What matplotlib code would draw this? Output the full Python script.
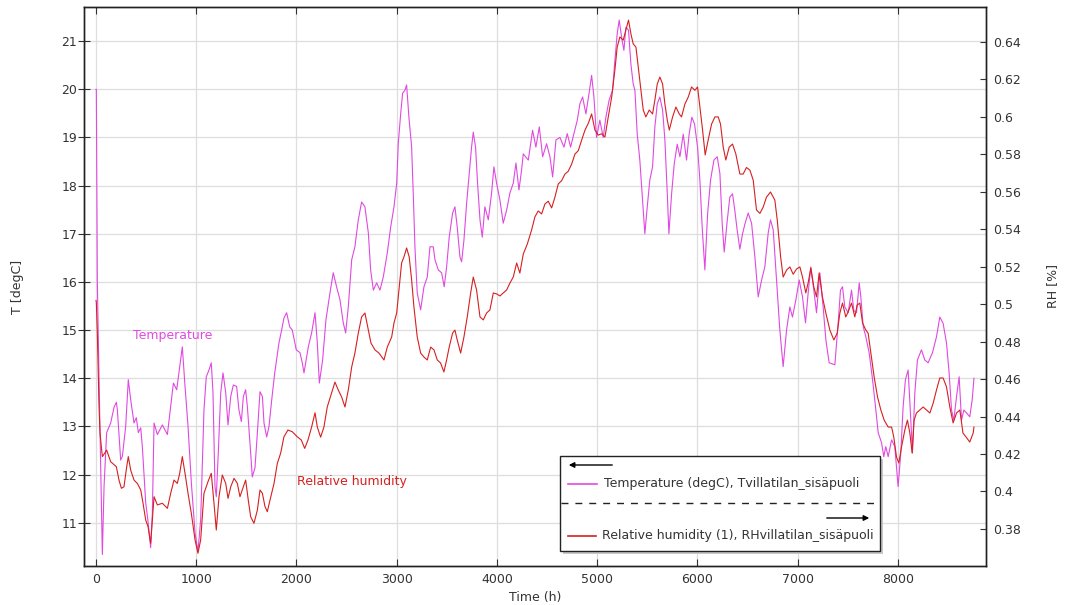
import numpy as np
import matplotlib
matplotlib.use("Agg")
import matplotlib.pyplot as plt
from matplotlib.patches import Rectangle, FancyArrowPatch
from matplotlib.lines import Line2D

# temperature (degC)
t_temp = [0, 3, 7, 13, 30, 63, 80, 106, 146, 180, 203, 213, 246, 263, 296, 322, 346, 379, 402, 422,
          446, 462, 496, 519, 545, 562, 579, 612, 662, 712, 745, 772, 805, 835, 861, 888, 918, 951,
          988, 1017, 1044, 1077, 1100, 1127, 1150, 1167, 1187, 1200, 1220, 1244, 1267, 1294, 1317,
          1344, 1370, 1403, 1426, 1450, 1470, 1493, 1510, 1543, 1559, 1586, 1610, 1636, 1660, 1676,
          1703, 1726, 1753, 1783, 1825, 1852, 1875, 1902, 1932, 1958, 1998, 2035, 2058, 2075, 2118,
          2151, 2185, 2208, 2228, 2261, 2294, 2334, 2367, 2400, 2434, 2467, 2491, 2517, 2551, 2583,
          2617, 2650, 2683, 2717, 2740, 2767, 2800, 2833, 2866, 2906, 2940, 2973, 3000, 3016, 3040,
          3059, 3082, 3099, 3122, 3149, 3165, 3182, 3205, 3239, 3272, 3305, 3332, 3365, 3382, 3415,
          3448, 3474, 3498, 3524, 3558, 3581, 3604, 3631, 3648, 3671, 3698, 3724, 3747, 3764, 3787,
          3807, 3831, 3854, 3880, 3914, 3947, 3970, 3997, 4030, 4063, 4097, 4130, 4163, 4190, 4220,
          4246, 4263, 4313, 4356, 4389, 4423, 4456, 4496, 4529, 4556, 4589, 4629, 4669, 4702, 4735,
          4768, 4802, 4828, 4855, 4888, 4918, 4945, 4968, 4994, 5027, 5061, 5087, 5120, 5154, 5177,
          5200, 5220, 5244, 5267, 5287, 5313, 5337, 5360, 5377, 5400, 5426, 5453, 5476, 5500, 5526,
          5553, 5576, 5600, 5626, 5653, 5676, 5700, 5716, 5743, 5769, 5799, 5826, 5859, 5892, 5918,
          5945, 5972, 6002, 6025, 6048, 6075, 6102, 6132, 6165, 6198, 6225, 6248, 6268, 6298, 6324,
          6351, 6374, 6397, 6424, 6451, 6474, 6507, 6541, 6574, 6607, 6641, 6673, 6707, 6730, 6757,
          6790, 6823, 6856, 6890, 6923, 6949, 6983, 7016, 7049, 7079, 7105, 7132, 7162, 7189, 7222,
          7255, 7282, 7315, 7372, 7405, 7428, 7448, 7471, 7505, 7538, 7561, 7588, 7615, 7631, 7655,
          7681, 7714, 7748, 7781, 7804, 7838, 7860, 7880, 7904, 7938, 7970, 8003, 8030, 8053, 8076,
          8103, 8126, 8146, 8170, 8196, 8236, 8269, 8302, 8346, 8386, 8419, 8452, 8486, 8512, 8536,
          8559, 8586, 8612, 8636, 8659, 8686, 8718, 8742, 8760]
temp = [20.0, 20.0, 18.5, 16.0, 14.0, 10.34, 11.75, 12.87, 13.07, 13.4, 13.5, 13.34, 12.3, 12.38,
        13.0, 13.97, 13.55, 13.07, 13.18, 12.87, 12.97, 12.58, 11.41, 11.02, 10.48, 11.2, 13.07,
        12.83, 13.03, 12.83, 13.41, 13.9, 13.76, 14.24, 14.65, 13.83, 13.0, 11.83, 10.79, 10.4,
        11.06, 13.34, 14.03, 14.17, 14.32, 13.7, 11.75, 11.54, 12.45, 13.69, 14.11, 13.7, 13.03,
        13.62, 13.86, 13.83, 13.34, 13.1, 13.62, 13.76, 13.41, 12.45, 11.95, 12.14, 12.87, 13.72,
        13.62, 13.07, 12.78, 13.0, 13.55, 14.11, 14.73, 15.0, 15.25, 15.36, 15.07, 15.0, 14.59,
        14.53, 14.32, 14.11, 14.65, 14.94, 15.36, 14.73, 13.9, 14.38, 15.21, 15.77, 16.19, 15.9,
        15.63, 15.15, 14.94, 15.48, 16.46, 16.73, 17.29, 17.66, 17.56, 17.02, 16.25, 15.83, 15.98,
        15.83, 16.1, 16.6, 17.14, 17.56, 18.05, 18.88, 19.5, 19.92, 19.98, 20.09, 19.42, 18.8,
        17.85, 16.73, 15.77, 15.42, 15.9, 16.1, 16.73, 16.73, 16.46, 16.25, 16.19, 15.9, 16.31,
        16.93, 17.43, 17.56, 17.14, 16.52, 16.42, 16.87, 17.64, 18.26, 18.8, 19.11, 18.8, 18.05,
        17.29, 16.93, 17.56, 17.29, 17.85, 18.39, 18.05, 17.7, 17.22, 17.49, 17.85, 18.05, 18.47,
        17.91, 18.32, 18.66, 18.53, 19.15, 18.8, 19.22, 18.6, 18.87, 18.6, 18.18, 18.95, 19.0,
        18.8, 19.08, 18.8, 19.08, 19.36, 19.7, 19.84, 19.49, 19.9, 20.29, 19.84, 19.0, 19.36,
        19.0, 19.42, 19.78, 19.98, 20.6, 21.15, 21.44, 21.08, 20.81, 21.29, 21.23, 20.52, 20.11,
        19.98, 19.07, 18.53, 17.7, 17.0, 17.56, 18.12, 18.39, 19.22, 19.7, 19.84, 19.57, 18.95,
        17.83, 17.0, 17.83, 18.45, 18.86, 18.6, 19.07, 18.53, 19.07, 19.42, 19.28, 18.8, 18.12,
        17.14, 16.25, 17.41, 18.12, 18.53, 18.6, 18.25, 17.2, 16.62, 17.27, 17.76, 17.83, 17.48,
        17.08, 16.68, 17.0, 17.2, 17.43, 17.22, 16.52, 15.69, 16.04, 16.31, 17.02, 17.29, 17.08,
        16.04, 15.0, 14.24, 15.0, 15.48, 15.27, 15.63, 16.04, 15.69, 15.15, 15.76, 16.31, 15.83,
        15.36, 16.19, 15.48, 14.8, 14.32, 14.28, 15.15, 15.83, 15.9, 15.48, 15.36, 15.83, 15.41,
        15.36, 15.98, 15.69, 15.07, 14.86, 14.53, 13.97, 13.34, 12.87, 12.66, 12.37, 12.58, 12.37,
        12.72, 12.58, 11.75, 12.45, 13.41, 13.97, 14.17, 13.28, 12.45, 13.7, 14.38, 14.59, 14.38,
        14.32, 14.53, 14.86, 15.27, 15.14, 14.73, 14.11, 13.34, 13.13, 13.62, 14.03, 13.13, 13.34,
        13.28, 13.2, 13.55, 14.0]

# relative humidity (1)
t_rh = [0, 3, 13, 30, 40, 63, 86, 106, 146, 203, 229, 253, 279, 306, 322, 346, 379, 412, 446, 469,
        496, 519, 545, 562, 579, 612, 662, 712, 745, 778, 811, 835, 861, 888, 918, 951, 988, 1017,
        1044, 1077, 1117, 1150, 1177, 1200, 1227, 1260, 1294, 1317, 1344, 1377, 1410, 1436, 1470,
        1493, 1519, 1543, 1576, 1610, 1636, 1660, 1686, 1709, 1736, 1776, 1809, 1842, 1875, 1915,
        1958, 2008, 2048, 2082, 2115, 2151, 2185, 2208, 2241, 2274, 2307, 2351, 2384, 2417, 2451,
        2484, 2517, 2551, 2583, 2617, 2650, 2683, 2717, 2743, 2783, 2823, 2873, 2906, 2950, 2973,
        3000, 3026, 3049, 3072, 3099, 3125, 3149, 3172, 3205, 3239, 3272, 3305, 3339, 3372, 3405,
        3438, 3471, 3498, 3524, 3558, 3581, 3604, 3638, 3671, 3704, 3738, 3764, 3797, 3831, 3864,
        3897, 3930, 3964, 3997, 4030, 4063, 4097, 4130, 4163, 4197, 4229, 4263, 4303, 4346, 4379,
        4412, 4446, 4479, 4512, 4546, 4579, 4612, 4646, 4679, 4712, 4746, 4779, 4812, 4846, 4879,
        4912, 4945, 4978, 5011, 5045, 5078, 5111, 5145, 5177, 5200, 5227, 5260, 5287, 5313, 5337,
        5360, 5387, 5410, 5433, 5460, 5486, 5520, 5553, 5576, 5600, 5626, 5653, 5676, 5700, 5720,
        5753, 5786, 5819, 5842, 5876, 5909, 5942, 5975, 6002, 6025, 6052, 6078, 6108, 6142, 6175,
        6208, 6231, 6258, 6284, 6318, 6351, 6384, 6424, 6457, 6490, 6524, 6557, 6590, 6624, 6657,
        6690, 6730, 6773, 6797, 6831, 6856, 6890, 6923, 6956, 6990, 7023, 7049, 7082, 7105, 7132,
        7162, 7189, 7215, 7248, 7282, 7322, 7362, 7395, 7422, 7448, 7481, 7505, 7538, 7571, 7594,
        7621, 7648, 7681, 7704, 7731, 7764, 7798, 7831, 7864, 7904, 7938, 7960, 7987, 8010, 8037,
        8070, 8096, 8120, 8143, 8163, 8186, 8220, 8253, 8287, 8320, 8353, 8386, 8419, 8452, 8486,
        8519, 8552, 8586, 8619, 8650, 8682, 8718, 8752, 8760]
rh = [0.502, 0.501, 0.4846, 0.4453, 0.431, 0.4186, 0.4204, 0.4221, 0.4159, 0.4132, 0.4061, 0.4017,
      0.4025, 0.4132, 0.4186, 0.4114, 0.4061, 0.4043, 0.4008, 0.3937, 0.3847, 0.3812, 0.3723,
      0.3847, 0.3972, 0.3928, 0.3937, 0.391, 0.399, 0.4061, 0.4043, 0.4097, 0.4186, 0.4097, 0.399,
      0.3883, 0.3741, 0.367, 0.3741, 0.399, 0.4052, 0.4097, 0.3937, 0.3794, 0.3972, 0.4088,
      0.4043, 0.3963, 0.4025, 0.407, 0.4043, 0.3972, 0.4025, 0.4061, 0.3954, 0.3865, 0.383,
      0.3901, 0.4008, 0.399, 0.3919, 0.3892, 0.3954, 0.4043, 0.415, 0.4204, 0.4292, 0.4328,
      0.4319, 0.4292, 0.4275, 0.423, 0.4275, 0.4344, 0.442, 0.4344, 0.429, 0.4344, 0.4451, 0.4526,
      0.4584, 0.4542, 0.4504, 0.4451, 0.4542, 0.4665, 0.4739, 0.4846, 0.4932, 0.4953, 0.4862,
      0.4793, 0.4756, 0.4739, 0.4702, 0.4771, 0.4825, 0.49, 0.4953, 0.5092, 0.522, 0.5252, 0.53,
      0.5252, 0.5129, 0.4985, 0.4825, 0.4739, 0.4718, 0.4702, 0.4771, 0.4756, 0.4702, 0.4686,
      0.4638, 0.4702, 0.4771, 0.4846, 0.4862, 0.4809, 0.4739, 0.4825, 0.4932, 0.506, 0.5145,
      0.5076, 0.4932, 0.4916, 0.4953, 0.4969, 0.506, 0.5055, 0.5044, 0.506, 0.5076, 0.5113,
      0.5145, 0.522, 0.5166, 0.5268, 0.5321, 0.5396, 0.5466, 0.5498, 0.5482, 0.5535, 0.555,
      0.5514, 0.5572, 0.5642, 0.566, 0.5695, 0.571, 0.5749, 0.5802, 0.582, 0.5877, 0.593, 0.5966,
      0.6016, 0.593, 0.5903, 0.591, 0.5893, 0.6, 0.6106, 0.625, 0.6373, 0.6427, 0.641, 0.6464,
      0.6517, 0.6444, 0.639, 0.6373, 0.6267, 0.616, 0.6037, 0.6, 0.6037, 0.6016, 0.609, 0.6176,
      0.6213, 0.6176, 0.6069, 0.5983, 0.593, 0.6, 0.6053, 0.6016, 0.6, 0.6069, 0.6106, 0.616,
      0.6142, 0.616, 0.6053, 0.593, 0.5797, 0.5877, 0.5962, 0.6, 0.6, 0.5962, 0.5839, 0.577,
      0.5839, 0.5855, 0.5802, 0.5695, 0.5695, 0.573, 0.5716, 0.5663, 0.5503, 0.5485, 0.5519,
      0.5572, 0.5599, 0.5556, 0.545, 0.5252, 0.5145, 0.5182, 0.5199, 0.516, 0.5188, 0.5199,
      0.5145, 0.506, 0.5113, 0.5193, 0.5092, 0.5039, 0.5166, 0.5039, 0.4953, 0.4862, 0.4809,
      0.4845, 0.4953, 0.5006, 0.4932, 0.496, 0.5006, 0.4932, 0.4995, 0.5006, 0.49, 0.4862,
      0.4845, 0.4739, 0.4611, 0.4504, 0.4435, 0.4381, 0.4344, 0.4344, 0.429, 0.4184, 0.4152,
      0.4237, 0.4328, 0.4381, 0.4312, 0.4205, 0.4381, 0.4419, 0.4435, 0.4451, 0.4435, 0.4419,
      0.4472, 0.4542, 0.4606, 0.4606, 0.4558, 0.4451, 0.4366, 0.4419, 0.4435, 0.4312, 0.429,
      0.4264, 0.4312, 0.4344]

x_ticks = np.arange(0, 8001, 1000)
t_ticks = np.arange(11, 22, 1)
rh_ticks = np.arange(0.38, 0.645, 0.02)

W, H = 1066, 605
c_temp = '#e04ae0'
c_rh = '#d62020'
c_txt = '#333333'

fig = plt.figure(figsize=(W / 100, H / 100), dpi=100)
ax = fig.add_axes([84 / W, 1 - 566 / H, (986 - 84) / W, (566 - 7) / H])

ax.plot(t_temp, temp, color=c_temp, lw=0.8)
ax.set_xlim(-120, 8880)
ax.set_ylim(10.1, 21.71)
ax.set_xticks(x_ticks)
ax.set_yticks(t_ticks)
ax.grid(True, color='#dedede', lw=0.9)
ax.set_axisbelow(True)
ax.tick_params(axis='x', direction='in', top=True, length=5, colors=c_txt, labelsize=9, pad=5)
ax.tick_params(axis='y', direction='inout', length=8, colors=c_txt, labelsize=9, pad=1)
ax.set_xlabel('Time (h)', fontsize=9, color=c_txt)
ax.set_ylabel('T [degC]', fontsize=9, color=c_txt)
ax.xaxis.set_label_coords(0.5, -0.045)
ax.yaxis.set_label_coords(-0.066, 0.5)

ax.text(369, 14.88, 'Temperature', color=c_temp, fontsize=9, va='center')
ax.text(2005, 11.85, 'Relative humidity', color=c_rh, fontsize=9, va='center')

ax2 = ax.twinx()
ax2.plot(t_rh, rh, color=c_rh, lw=0.8)
ax2.set_ylim(0.3602, 0.6587)
ax2.set_yticks(rh_ticks)
ax2.set_yticklabels(['%g' % round(v, 2) for v in rh_ticks])
ax2.tick_params(axis='y', direction='in', length=4, colors=c_txt, labelsize=9, pad=5)
ax2.set_ylabel('RH [%]', fontsize=9, color=c_txt)
ax2.yaxis.set_label_coords(1.066, 0.5)

for a in (ax, ax2):
    for s in a.spines.values():
        s.set_color('#222222')
        s.set_linewidth(1.0)


# legend drawn by hand in figure pixel coords
def P(px, py):
    return (px / W, 1 - py / H)


tf = fig.transFigure
fig.add_artist(Rectangle(P(563, 554), 320 / W, 95 / H, transform=tf,
                         facecolor='#c8c8c8', edgecolor='none', zorder=5))
fig.add_artist(Rectangle(P(560, 551), 320 / W, 95 / H, transform=tf,
                         facecolor='white', edgecolor='#222222', lw=1.0, zorder=6))
fig.add_artist(FancyArrowPatch(P(615, 465), P(566, 465), transform=tf, arrowstyle='-|>',
                               mutation_scale=8, color='black', lw=1.0, zorder=7))
fig.add_artist(Line2D([P(568, 0)[0], P(597, 0)[0]], [P(0, 484)[1]] * 2, transform=tf,
                      color=c_temp, lw=1.2, zorder=7))
fig.text(*P(604, 484), 'Temperature (degC), Tvillatilan_sisäpuoli', fontsize=9,
         color=c_txt, va='center', zorder=7)
fig.add_artist(Line2D([P(561, 0)[0], P(879, 0)[0]], [P(0, 503)[1]] * 2, transform=tf,
                      color='#222222', lw=1.0, ls=(0, (5, 5)), zorder=7))
fig.add_artist(FancyArrowPatch(P(824, 518), P(872, 518), transform=tf, arrowstyle='-|>',
                               mutation_scale=8, color='black', lw=1.0, zorder=7))
fig.add_artist(Line2D([P(568, 0)[0], P(596, 0)[0]], [P(0, 536)[1]] * 2, transform=tf,
                      color=c_rh, lw=1.2, zorder=7))
fig.text(*P(602, 536), 'Relative humidity (1), RHvillatilan_sisäpuoli', fontsize=9,
         color=c_txt, va='center', zorder=7)

fig.savefig('out.png', dpi=100)
